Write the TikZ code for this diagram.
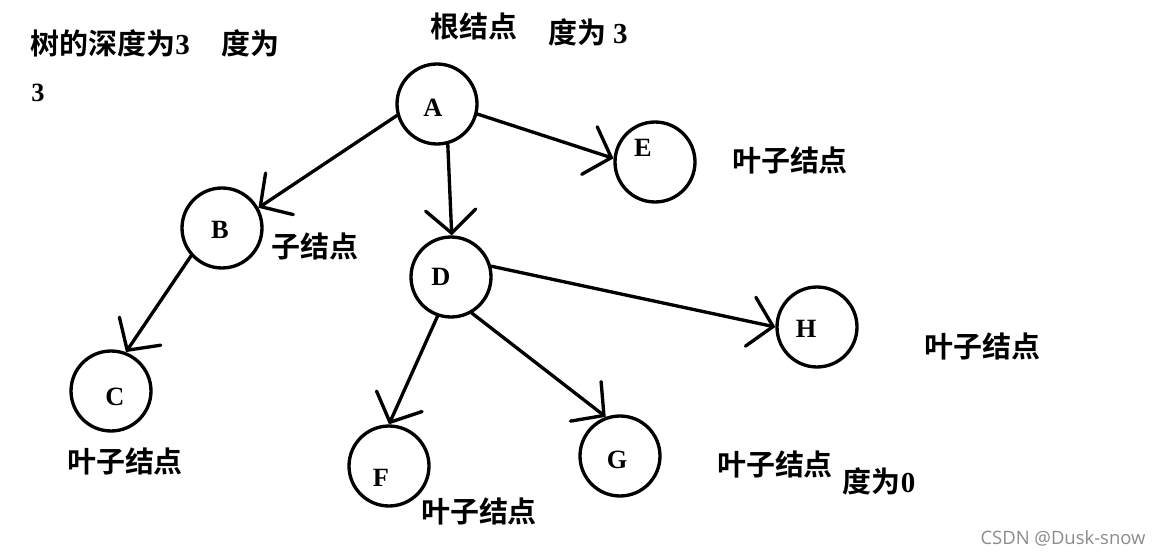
\documentclass[tikz,border=0pt]{standalone}
\usepackage{fontspec}
\setmainfont{Liberation Serif}
\newfontfamily\cjk{Noto Sans CJK SC}[BoldFont={Noto Sans CJK SC Bold}]
\newfontfamily\wmfont{Open Sans}
\usepackage{tikz}
\usetikzlibrary{arrows.meta}

\begin{document}
\begin{tikzpicture}[
    x=0.02cm, y=-0.02cm,
    every node/.style={font=\fontsize{15}{18}\selectfont\bfseries},
    vtx/.style={circle,draw=black,line width=1.9pt,minimum size=1.6cm,inner sep=0pt},
    ltr/.style={inner sep=0pt},
    note/.style={font=\fontsize{16.5}{19}\selectfont\bfseries\cjk,inner sep=0pt},
    arr/.style={line width=1.9pt,line cap=round,
                -{Straight Barb[length=4.6mm,width=10mm,line cap=round]}}
]
\useasboundingbox[fill=white] (0,0) rectangle (1163,557);

% tree nodes
\node[vtx] (A) at (437,104) {};
\node[vtx] (E) at (655,162) {};
\node[vtx] (B) at (222,228) {};
\node[vtx] (D) at (451,277) {};
\node[vtx] (H) at (817,327) {};
\node[vtx] (C) at (111,391) {};
\node[vtx] (F) at (389,466) {};
\node[vtx] (G) at (620,456) {};

% node letters, a little off centre as in the sketch
\node[ltr] (lA) at (433,108) {A};
\node[ltr] (lE) at (643,148) {E};
\node[ltr] (lB) at (220,230) {B};
\node[ltr] (lD) at (441,277) {D};
\node[ltr] (lH) at (806,329) {H};
\node[ltr] (lC) at (115,397) {C};
\node[ltr] (lF) at (381,478) {F};
\node[ltr] (lG) at (617,460) {G};

% edges
\draw[arr] (A.196) -- (B.29);
\draw[arr] (A.285) -- (D.89);
\draw[arr] (A.346) -- (E.175);
\draw[arr] (B.222) -- (C.69);
\draw[arr] (D.251) -- (F.90);
\draw[arr] (D.300) -- (G.110);
\draw[arr] (D.15)  -- (H.180);

% notes
\node[note,anchor=west] (depth) at (30,43) {树的深度为{\rmfamily\fontsize{16.5}{19}\selectfont 3}\hspace{1.1em}度为};
\node[ltr] (depth3) at (38,93) {3};
\node[note] (root) at (474,27) {根结点};
\node[note] (rootdeg) at (588,32) {度为 {\rmfamily 3}};
\node[note] (leafE) at (790,160) {叶子结点};
\node[note] (childB) at (315,246) {子结点};
\node[note] (leafH) at (982,346) {叶子结点};
\node[note] (leafC) at (125,461) {叶子结点};
\node[note] (leafF) at (479,511) {叶子结点};
\node[note] (leafG) at (775,464) {叶子结点};
\node[note] (degG) at (879,481) {度为{\rmfamily 0}};

% watermark
\node[font=\fontsize{10.5}{12}\selectfont\wmfont,text=black!45,inner sep=0pt] (wm) at (1063,538) {CSDN @Dusk-snow};
\end{tikzpicture}
\end{document}
